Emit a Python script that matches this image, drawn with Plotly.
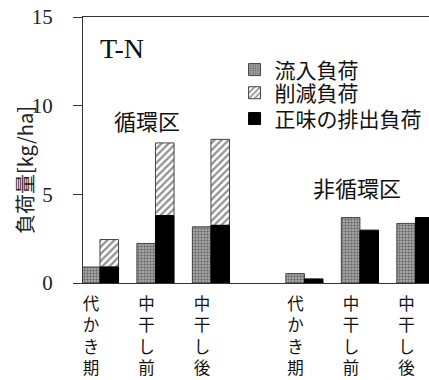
import plotly.graph_objects as go

# Stages (x tick labels, written vertically)
stages = ["代かき期", "中干し前", "中干し後"]

# 循環区 loads [kg/ha]
circ_inflow = [0.9, 2.23, 3.17]
circ_net = [0.9, 3.8, 3.25]
circ_reduced = [1.55, 4.1, 4.85]

# 非循環区 loads [kg/ha]
nc_inflow = [0.53, 3.69, 3.36]
nc_net = [0.23, 2.98, 3.69]

y_ticks = [0, 5, 10, 15]

# group centres on a numeric axis; second block is shifted right
circ_pos = [0, 1, 2]
nc_pos = [p + 3.685 for p in circ_pos]
all_pos = circ_pos + nc_pos
bw = 0.335

CJK = "Noto Sans CJK JP"
SERIF = "Liberation Serif"

fig = go.Figure()

fig.add_trace(go.Bar(
    name="流入負荷", x=all_pos, y=circ_inflow + nc_inflow,
    offset=-bw, width=bw, legend="legend",
    marker=dict(color="#9a9a9a",
                line=dict(color="#444444", width=1),
                pattern=dict(shape=".", size=3, solidity=0.5,
                             fgcolor="#222222", bgcolor="#b4b4b4")),
))
fig.add_trace(go.Bar(
    name="削減負荷", x=circ_pos, y=circ_reduced, base=circ_net,
    offset=0, width=bw, legend="legend2",
    marker=dict(color="white",
                line=dict(color="#444444", width=1),
                pattern=dict(shape="/", size=5, solidity=0.45,
                             fgcolor="#222222", bgcolor="white")),
))
fig.add_trace(go.Bar(
    name="正味の排出負荷", x=all_pos, y=circ_net + nc_net,
    offset=0, width=bw, legend="legend3",
    marker=dict(color="black", line=dict(color="black", width=1)),
))


def legend_box(y):
    return dict(x=0.438, y=y, xanchor="left", yanchor="middle",
                font=dict(family=CJK, size=21, color="#111111"),
                bgcolor="rgba(0,0,0,0)", itemwidth=30)


fig.update_layout(
    width=429, height=380,
    margin=dict(l=83, r=0, t=17, b=97),
    paper_bgcolor="white", plot_bgcolor="white",
    barmode="overlay",
    showlegend=True,
    legend=legend_box(0.801),
    legend2=legend_box(0.714),
    legend3=legend_box(0.617),
    font=dict(family=CJK, color="#111111"),
)

fig.update_xaxes(
    range=[-0.306, 5.93],
    tickmode="array",
    tickvals=[p - 0.16 for p in all_pos],
    ticktext=["<br>".join(s) for s in stages] * 2,
    tickfont=dict(family=CJK, size=16.5, color="#111111"),
    ticks="", ticklabelstandoff=6,
    showgrid=False, zeroline=False,
    showline=True, linecolor="#333333", linewidth=1, mirror=True,
)
fig.update_yaxes(
    range=[0, 15],
    tickmode="array", tickvals=y_ticks,
    tickfont=dict(family=SERIF, size=21, color="#222222"),
    ticks="outside", ticklen=9, tickcolor="#333333", tickwidth=1,
    ticklabelstandoff=16,
    showgrid=False, zeroline=False,
    showline=True, linecolor="#333333", linewidth=1,
)

fig.add_annotation(text="負荷量[kg/ha]", xref="paper", yref="paper",
                   x=-0.1676, y=0.425, xanchor="center", yanchor="middle",
                   textangle=-90, showarrow=False,
                   font=dict(family=CJK, size=20, color="#222222"))
fig.add_annotation(text="T-N", xref="paper", yref="paper",
                   x=0.043, y=0.883, xanchor="left", yanchor="middle",
                   showarrow=False,
                   font=dict(family=SERIF, size=28, color="#111111"))
fig.add_annotation(text="循環区", xref="paper", yref="paper",
                   x=0.186, y=0.613, xanchor="center", yanchor="middle",
                   showarrow=False,
                   font=dict(family=CJK, size=22, color="#111111"))
fig.add_annotation(text="非循環区", xref="paper", yref="paper",
                   x=0.793, y=0.361, xanchor="center", yanchor="middle",
                   showarrow=False,
                   font=dict(family=CJK, size=22, color="#111111"))

fig.write_html("out.html")
